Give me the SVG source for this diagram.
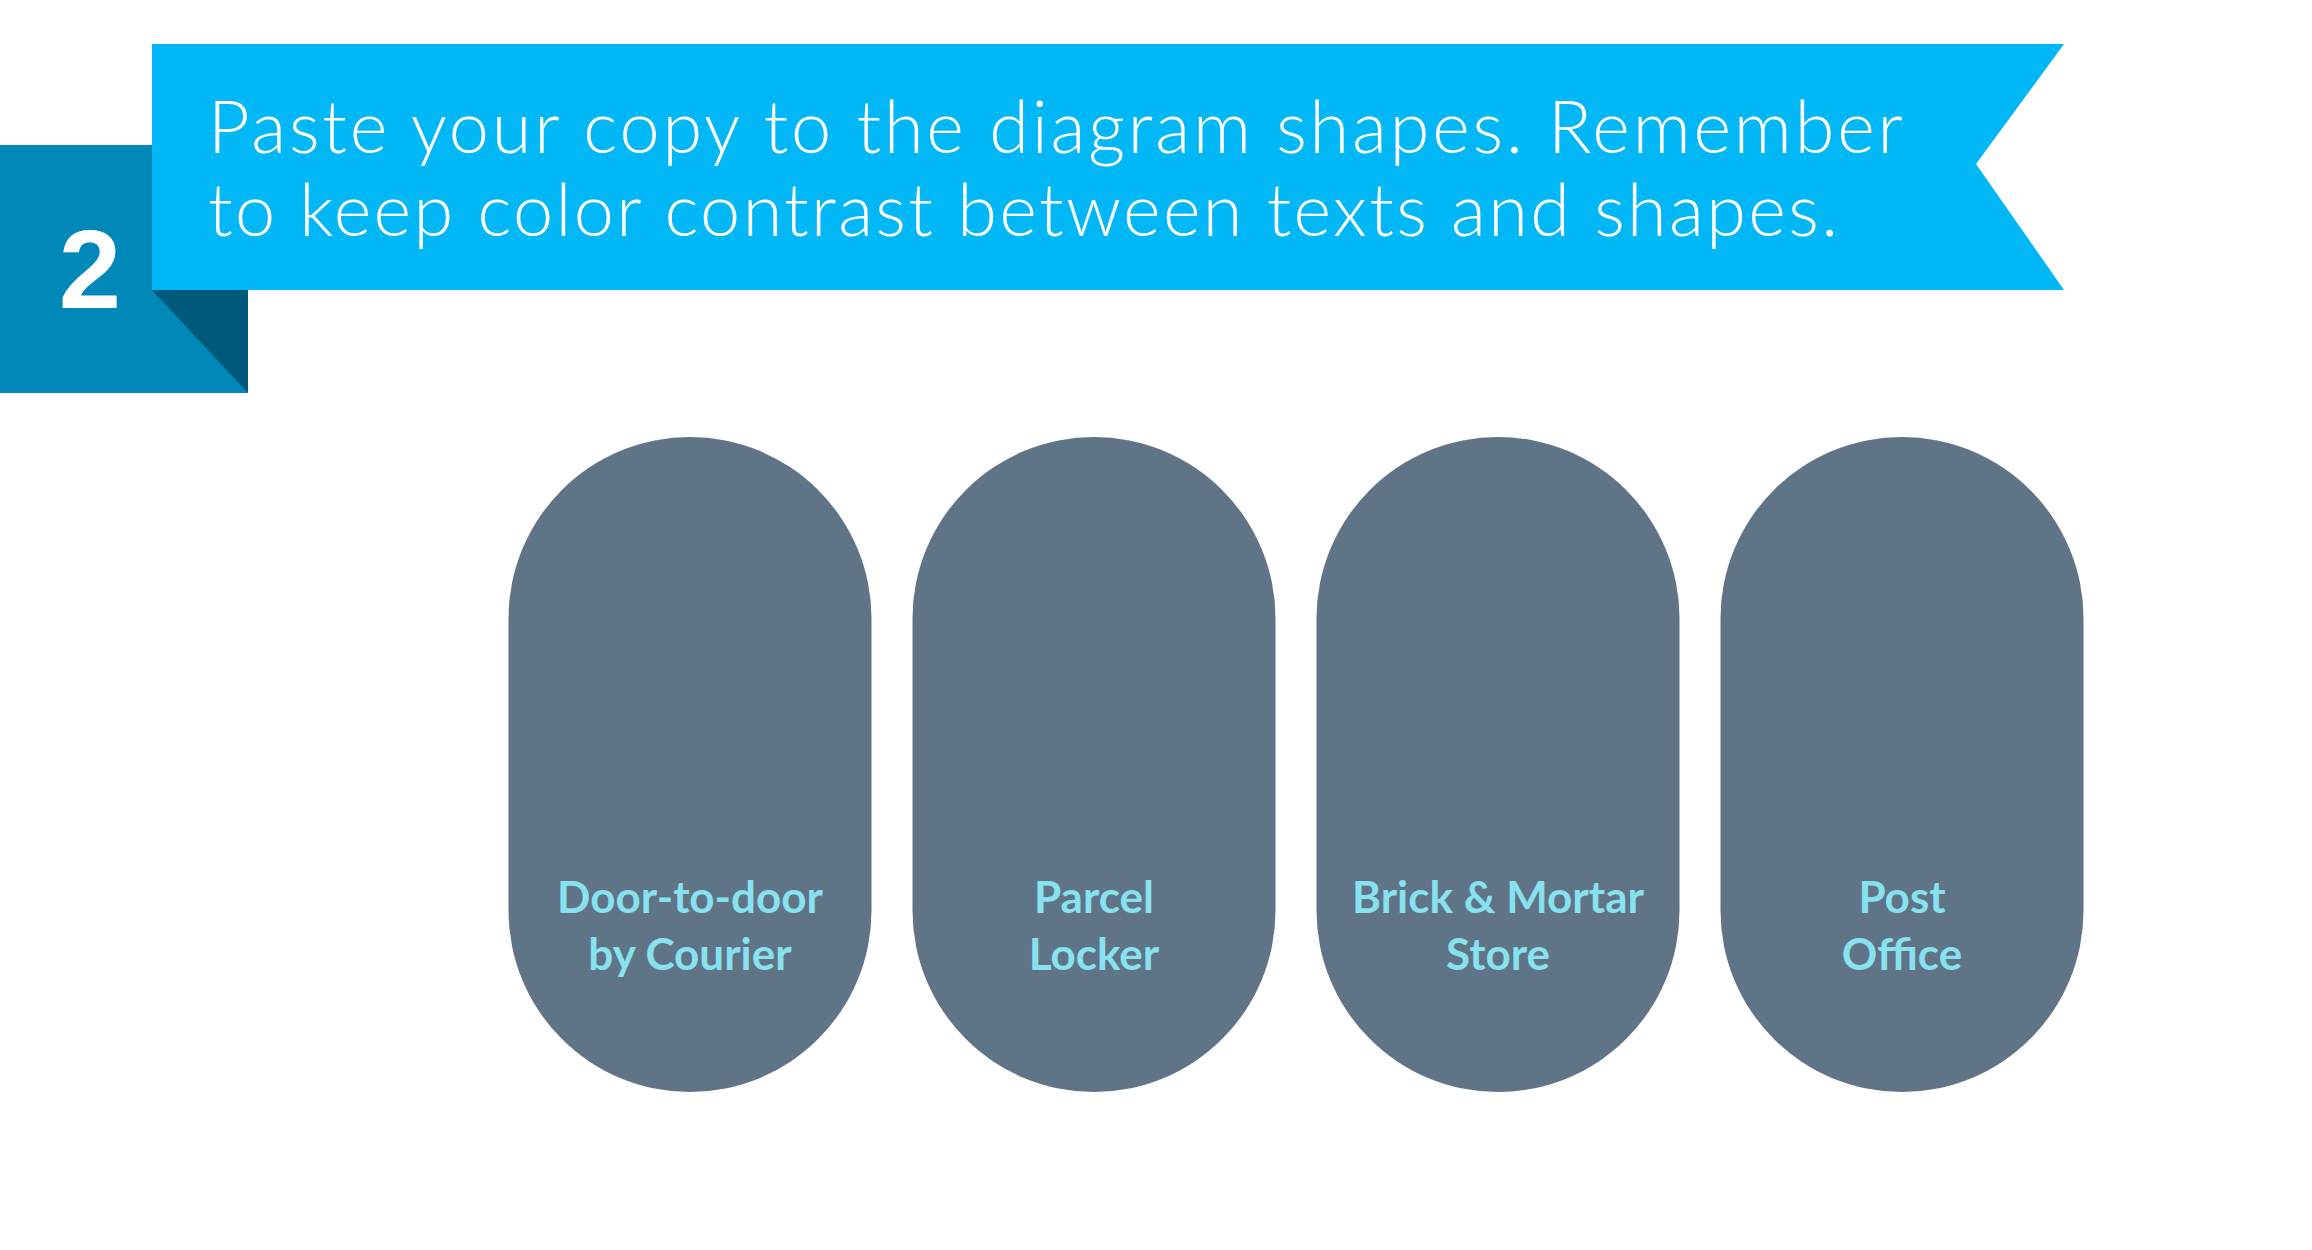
<svg xmlns="http://www.w3.org/2000/svg" width="2312" height="1250" viewBox="0 0 2312 1250">
<style>
.banner-text{font-family:Lato,"Liberation Sans",sans-serif;font-weight:300;font-size:72px;fill:#FFFFFF}
.pill{fill:#5F7487}
.label{font-family:Lato,"Liberation Sans",sans-serif;font-weight:700;font-size:44px;fill:#88E1EE;text-anchor:middle}
</style>
<rect width="2312" height="1250" fill="#FFFFFF"/>
<g id="header">
<rect x="0" y="145" width="248" height="248" fill="#0088B9"/>
<polygon points="152,290 248,290 248,393" fill="#005A7C"/>
<polygon points="152,44 2064,44 1976,164 2064,290 152,290" fill="#02B7F5"/>
<text x="90" y="308" font-family="'Liberation Sans',Arial,sans-serif" font-weight="700" font-size="112" fill="#FFFFFF" text-anchor="middle">2</text>
<text class="banner-text" x="208" y="153" textLength="1695" lengthAdjust="spacing">Paste your copy to the diagram shapes. Remember</text>
<text class="banner-text" x="208" y="236" textLength="1630" lengthAdjust="spacing">to keep color contrast between texts and shapes.</text>
</g>
<g id="node1">
<rect class="pill" x="508.5" y="437" width="363" height="655" rx="181.5" ry="181.5"/>
<text class="label" x="690" y="913">Door-to-door</text>
<text class="label" x="690" y="970">by Courier</text>
</g>
<g id="node2">
<rect class="pill" x="912.5" y="437" width="363" height="655" rx="181.5" ry="181.5"/>
<text class="label" x="1094" y="913">Parcel</text>
<text class="label" x="1094" y="970">Locker</text>
</g>
<g id="node3">
<rect class="pill" x="1316.5" y="437" width="363" height="655" rx="181.5" ry="181.5"/>
<text class="label" x="1498" y="913">Brick &amp; Mortar</text>
<text class="label" x="1498" y="970">Store</text>
</g>
<g id="node4">
<rect class="pill" x="1720.5" y="437" width="363" height="655" rx="181.5" ry="181.5"/>
<text class="label" x="1902" y="913">Post</text>
<text class="label" x="1902" y="970">Office</text>
</g>
<g id="connectors"></g>
</svg>
